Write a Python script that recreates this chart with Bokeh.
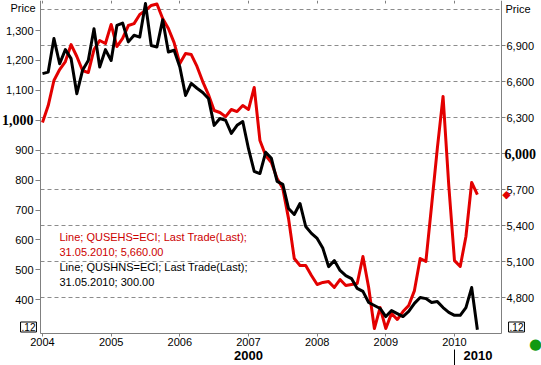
import pandas as pd
from bokeh.plotting import figure
from bokeh.models import (Range1d, LinearAxis, FixedTicker, Label, ColumnDataSource,
                          Grid, NumeralTickFormatter)
from bokeh.embed import file_html
from bokeh.resources import INLINE

# ---------------- data ----------------
months = pd.date_range("2004-01-01", periods=77, freq="MS")

# QUSHNS=ECI (new home sales, left axis)
qushns = [1156, 1161, 1273, 1189, 1236, 1206, 1089, 1167, 1200, 1306, 1178, 1236,
          1200, 1317, 1325, 1262, 1284, 1278, 1390, 1250, 1245, 1336, 1228, 1234,
          1178, 1083, 1123, 1107, 1093, 1073, 983, 1006, 1000, 956, 983, 996,
          905, 829, 822, 893, 873, 796, 786, 705, 685, 722, 645, 622,
          605, 572, 511, 531, 498, 481, 471, 438, 428, 391, 381, 371,
          344, 364, 354, 344, 361, 388, 408, 404, 391, 394, 374, 358,
          348, 348, 374, 441, 300]

# QUSEHS=ECI (existing home sales, right axis)
qusehs = [6261, 6402, 6611, 6702, 6769, 6910, 6811, 6694, 6677, 6869, 6944, 6919,
          7078, 6894, 6961, 7069, 7085, 7161, 7194, 7236, 7248, 7127, 7044, 6927,
          6752, 6835, 6827, 6728, 6602, 6494, 6361, 6344, 6310, 6369, 6352, 6402,
          6369, 6553, 6111, 5986, 5928, 5794, 5710, 5460, 5127, 5069, 5069, 4986,
          4911, 4928, 4935, 4886, 4952, 4903, 4911, 4919, 5144, 4886, 4544, 4719,
          4544, 4670, 4619, 4685, 4736, 4860, 5127, 5103, 5569, 6045, 6478, 5736,
          5110, 5061, 5311, 5761, 5660]

year_ticks = [2004, 2005, 2006, 2007, 2008, 2009, 2010]
left_ticks = [400, 500, 600, 700, 800, 900, 1000, 1100, 1200, 1300]
right_ticks = [4800, 5100, 5400, 5700, 6000, 6300, 6600, 6900]
grid_ticks = right_ticks + [7200]
left_bold_tick = 1000
right_bold_tick = 6000
decade_labels = ["2000", "2010"]
last_date = "31.05.2010"
red_name = "Line; QUSEHS=ECI; Last Trade(Last);"
black_name = "Line; QUSHNS=ECI; Last Trade(Last);"
scale_tag = ".12"

x = [m.year + (m.month - 1) / 12 for m in months]

# ---------------- geometry ----------------
W, H = 541, 365                   # canvas
PL, PR, PT, PB = 40, 501, 0, 333  # plot area inside the canvas (px)
XA, XB = 2003.971, 2010.6845      # x values at plot-area left / right
LA, LB = 287.4, 1400.3            # left axis values at plot-area bottom / top
RA, RB = 4502.5, 7277.5           # right axis values at plot-area bottom / top

kx = (XB - XA) / (PR - PL)
kl = (LB - LA) / (PB - PT)
kr = (RB - RA) / (PB - PT)
x_start, x_end = XA - PL * kx, XB + (W - PR) * kx
l_start, l_end = LA - (H - PB) * kl, LB + PT * kl
r_start, r_end = RA - (H - PB) * kr, RB + PT * kr

RED = "#e30000"
AX = "#808080"
FONT = "Liberation Sans"

p = figure(width=W, height=H, output_backend="svg", toolbar_location=None,
           x_range=Range1d(x_start, x_end), y_range=Range1d(r_start, r_end),
           x_axis_location=None, y_axis_location=None)
p.min_border_left = 0
p.min_border_right = 0
p.min_border_top = 0
p.min_border_bottom = 0
p.outline_line_color = None
p.background_fill_color = "white"
p.border_fill_color = "white"
p.extra_y_ranges = {"left": Range1d(l_start, l_end)}
for g in p.grid:
    g.visible = False

# horizontal dashed grid (from right-axis scale)
grid = Grid(dimension=1, ticker=FixedTicker(ticks=grid_ticks),
            grid_line_color="#8c8c8c", grid_line_dash="4 3", grid_line_width=1)
if "cross_bounds" in Grid.properties():
    grid.cross_bounds = (XA, XB)
    p.add_layout(grid)
else:
    p.segment(x0=[XA] * len(grid_ticks), x1=[XB] * len(grid_ticks),
              y0=grid_ticks, y1=grid_ticks, line_color="#8c8c8c",
              line_dash="4 3", line_width=1)


def style_axis(ax):
    ax.axis_line_color = AX
    ax.major_tick_line_color = AX
    ax.minor_tick_line_color = None
    ax.major_label_text_font = FONT
    ax.major_label_text_font_size = "11px"
    ax.major_label_text_color = "#000000"


# left axis
la = LinearAxis(y_range_name="left", fixed_location=XA, bounds=(LA, LB))
style_axis(la)
la.ticker = FixedTicker(ticks=left_ticks)
la.formatter = NumeralTickFormatter(format="0,0")
la.major_label_overrides = {left_bold_tick: "", str(left_bold_tick): ""}
la.major_tick_out = 5
la.major_tick_in = 0
la.major_label_standoff = 2
p.add_layout(la, "left")

# right axis
ra = LinearAxis(fixed_location=XB, bounds=(RA, RB))
style_axis(ra)
ra.ticker = FixedTicker(ticks=right_ticks)
ra.formatter = NumeralTickFormatter(format="0,0")
ra.major_label_overrides = {right_bold_tick: "", str(right_bold_tick): ""}
ra.major_tick_out = 4
ra.major_tick_in = 0
ra.major_label_standoff = 1
p.add_layout(ra, "right")

# bottom axis (years)
xa = LinearAxis(y_range_name="left", fixed_location=LA, bounds=(XA, XB))
style_axis(xa)
xa.ticker = FixedTicker(ticks=year_ticks)
xa.major_tick_out = 3
xa.major_tick_in = 0
xa.major_label_standoff = 1
p.add_layout(xa, "below")

# small tick marks along the top edge
ta = LinearAxis(y_range_name="left", fixed_location=LB, bounds=(XA, XB))
ta.ticker = FixedTicker(ticks=[], minor_ticks=year_ticks)
ta.axis_line_color = None
ta.major_tick_line_color = None
ta.minor_tick_line_color = AX
ta.minor_tick_out = 3
ta.minor_tick_in = 0
p.add_layout(ta, "below")

# decade axis (labels only)
mid0 = (year_ticks[0] + year_ticks[-1]) / 2
mid1 = (year_ticks[-1] + XB) / 2
decade_loc = LA - 16 * kl
da = LinearAxis(y_range_name="left", fixed_location=decade_loc)
da.ticker = FixedTicker(ticks=[mid0, mid1])
da.major_label_overrides = {mid0: decade_labels[0], mid1: decade_labels[1],
                            str(mid0): decade_labels[0], str(mid1): decade_labels[1],
                            str(int(mid0)): decade_labels[0]}
da.axis_line_color = None
da.major_tick_line_color = None
da.minor_tick_line_color = None
da.major_tick_out = 0
da.major_tick_in = 0
da.minor_tick_out = 0
da.minor_tick_in = 0
da.major_label_standoff = 1
da.major_label_text_font = FONT
da.major_label_text_font_style = "bold"
da.major_label_text_font_size = "13px"
da.major_label_text_color = "#000000"
p.add_layout(da, "below")

# decade separator (tick mark only)
sa = LinearAxis(y_range_name="left", fixed_location=decade_loc)
sa.ticker = FixedTicker(ticks=[], minor_ticks=[year_ticks[-1]])
sa.axis_line_color = None
sa.major_tick_line_color = None
sa.minor_tick_line_color = "#000000"
sa.minor_tick_out = 16
sa.minor_tick_in = 0
p.add_layout(sa, "below")

# series
src = ColumnDataSource(dict(x=x, red=qusehs, black=qushns))
p.line("x", "red", source=src, line_color=RED, line_width=3, line_join="round")
p.line("x", "black", source=src, line_color="#000000", line_width=3,
       line_join="round", y_range_name="left")


def lab(**kw):
    d = dict(text_font=FONT, text_font_size="11px", text_color="#000000")
    d.update(kw)
    p.add_layout(Label(**d))


# axis titles
lab(x=XA, y=LB, y_range_name="left", x_offset=-5, y_offset=-1, text="Price",
    text_align="right", text_baseline="top")
lab(x=XB, y=RB, x_offset=4, y_offset=-2, text="Price", text_baseline="top")

# highlighted tick labels
lab(x=XA, y=left_bold_tick, y_range_name="left", x_offset=-7, text=f"{left_bold_tick:,}",
    text_align="right", text_baseline="middle", text_font="Liberation Serif",
    text_font_style="bold", text_font_size="14px")
lab(x=XB, y=right_bold_tick, x_offset=3, text=f"{right_bold_tick:,}",
    text_baseline="middle", text_font="Liberation Serif", text_font_style="bold",
    text_font_size="14px")

# scale boxes
for xv, off in [(XA, -12), (XB, 15)]:
    lab(x=xv, y=LA, y_range_name="left", x_offset=off, y_offset=6.5, text=scale_tag,
        text_align="center", text_baseline="middle", text_font_size="10px",
        border_line_color="#000000", background_fill_color="white", padding=1)

# last-value marker of the red series
lab(x=XB, y=qusehs[-1], x_offset=5, text="\u25c6", text_color=RED, text_align="center",
    text_baseline="middle", text_font="DejaVu Sans", text_font_size="11px")

# green status dot
lab(x=XB, y=LA, y_range_name="left", x_offset=34, y_offset=-10, text="\u25cf",
    text_color="#119911", text_align="center", text_baseline="middle",
    text_font="DejaVu Sans", text_font_size="15px")

# legend text block
legend_lines = [
    (red_name, "#cc0000"),
    (f"{last_date}; {qusehs[-1]:,.2f}", "#cc0000"),
    (black_name, "#000000"),
    (f"{last_date}; {qushns[-1]:,.2f}", "#000000"),
]
for k, (t, c) in enumerate(legend_lines):
    lab(x=XA, y=LA, y_range_name="left", x_offset=19, y_offset=96.3 - 15 * k,
        text=t, text_color=c, text_baseline="middle")

open("out.html", "w").write(file_html(p, INLINE))
